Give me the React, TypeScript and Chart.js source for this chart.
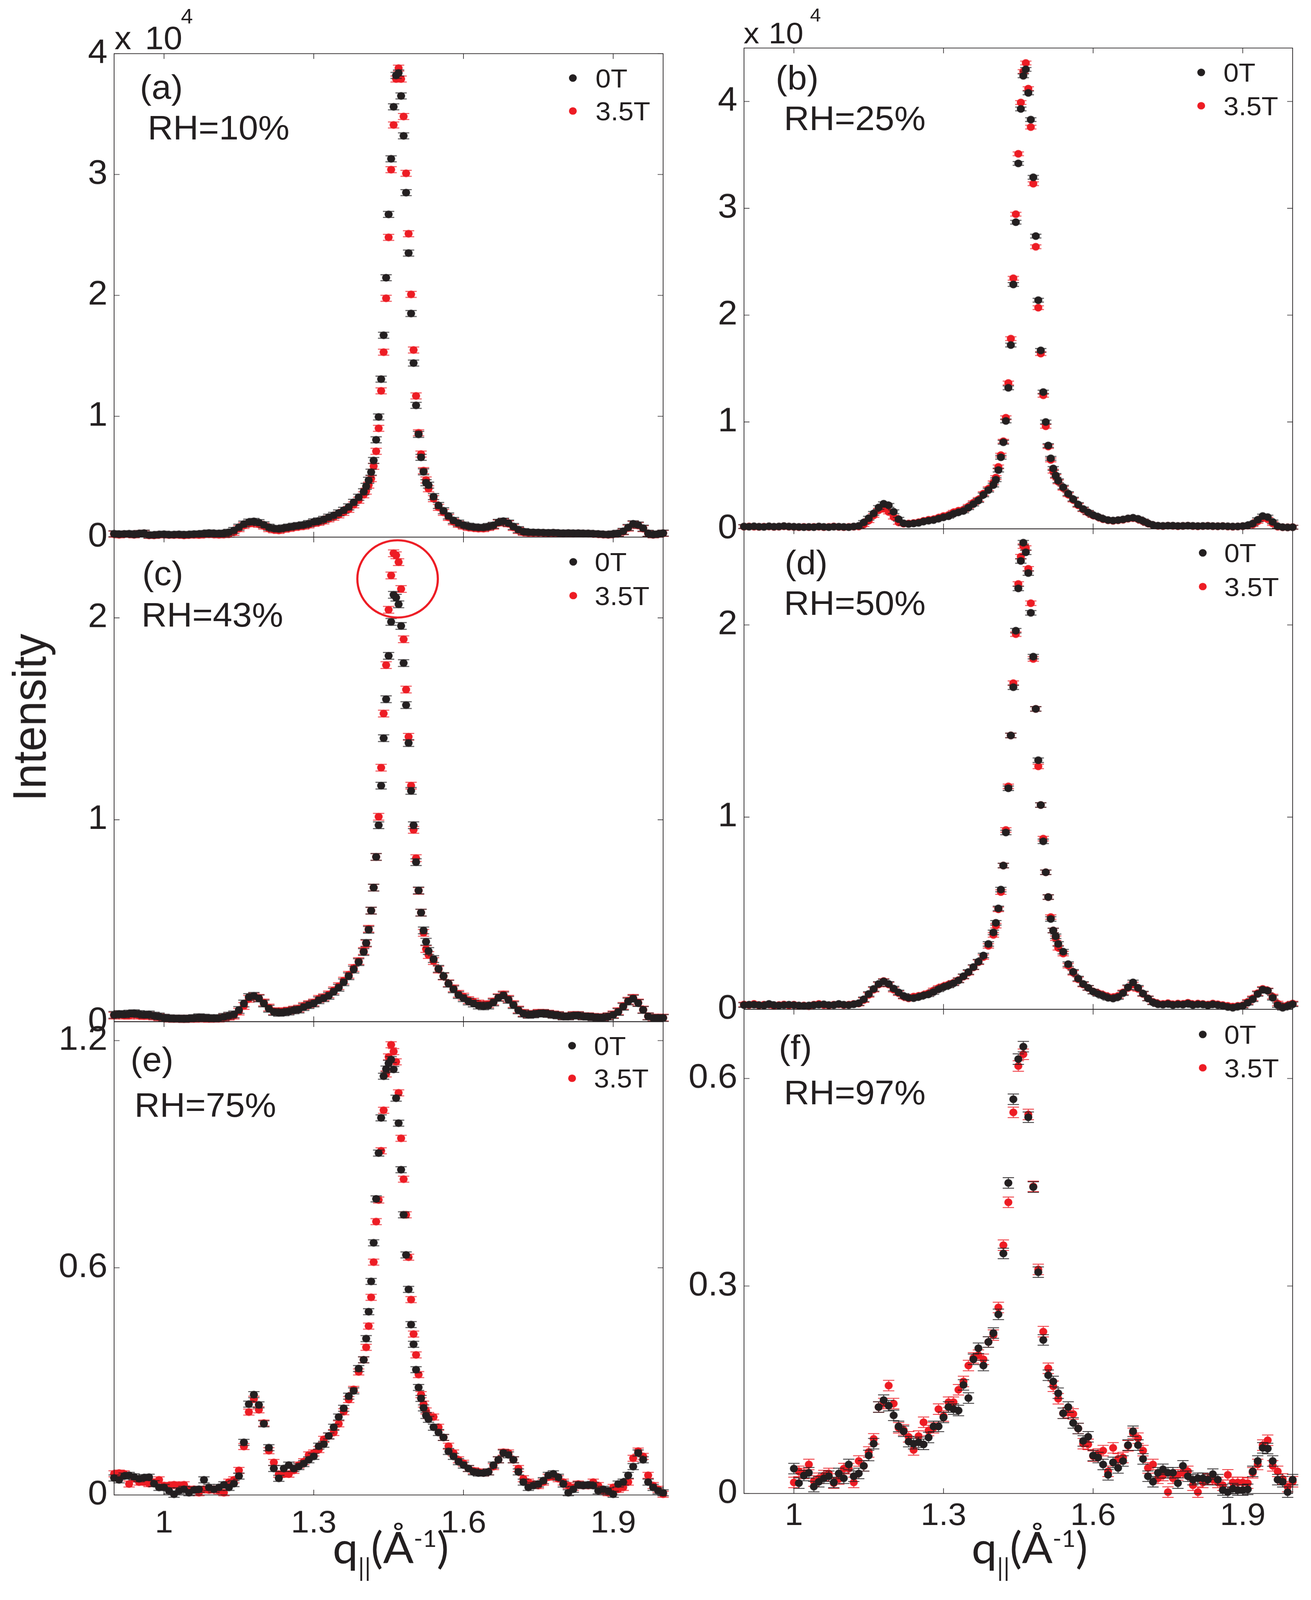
import { useEffect, useRef, useState } from 'react'
import { Chart, registerables } from 'chart.js'

Chart.register(...registerables)

const INK = '#231f20'
const RED = '#ed1c24'
const FONT = '"Liberation Sans", Arial, Helvetica, sans-serif'
const PAGE_W = 3355
const PAGE_H = 4266

// q|| grid (1/Å) for panels (a)-(e): 0.01 on the tails, 0.005 across the main peak
const Q = [
  0.9, 0.91, 0.92, 0.93, 0.94, 0.95, 0.96, 0.97, 0.98, 0.99,
  1.0, 1.01, 1.02, 1.03, 1.04, 1.05, 1.06, 1.07, 1.08, 1.09,
  1.1, 1.11, 1.12, 1.13, 1.14, 1.15, 1.16, 1.17, 1.18, 1.19,
  1.2, 1.21, 1.22, 1.23, 1.24, 1.25, 1.26, 1.27, 1.28, 1.29,
  1.3, 1.31, 1.32, 1.33, 1.34, 1.35, 1.36, 1.37, 1.38, 1.39,
  1.4,
  1.405, 1.41, 1.415, 1.42, 1.425, 1.43, 1.435, 1.44, 1.445, 1.45,
  1.455, 1.46, 1.465, 1.47, 1.475, 1.48, 1.485, 1.49, 1.495, 1.5,
  1.505, 1.51, 1.515, 1.52, 1.525, 1.53,
  1.54, 1.55, 1.56, 1.57, 1.58, 1.59, 1.6, 1.61, 1.62, 1.63,
  1.64, 1.65, 1.66, 1.67, 1.68, 1.69, 1.7, 1.71, 1.72, 1.73,
  1.74, 1.75, 1.76, 1.77, 1.78, 1.79, 1.8, 1.81, 1.82, 1.83,
  1.84, 1.85, 1.86, 1.87, 1.88, 1.89, 1.9, 1.91, 1.92, 1.93,
  1.94, 1.95, 1.96, 1.97, 1.98, 1.99, 2.0,
]

// q|| grid for panel (f)
const Q_F = [
  1.0, 1.01, 1.02, 1.03, 1.04, 1.05, 1.06, 1.07, 1.08, 1.09,
  1.1, 1.11, 1.12, 1.13, 1.14, 1.15, 1.16, 1.17, 1.18, 1.19,
  1.2, 1.21, 1.22, 1.23, 1.24, 1.25, 1.26, 1.27, 1.28, 1.29,
  1.3, 1.31, 1.32, 1.33, 1.34, 1.35, 1.36, 1.37, 1.38, 1.39,
  1.4, 1.41, 1.42, 1.43, 1.44, 1.45, 1.46, 1.47, 1.48, 1.49,
  1.5, 1.51, 1.52, 1.53, 1.54, 1.55, 1.56, 1.57, 1.58, 1.59,
  1.6, 1.61, 1.62, 1.63, 1.64, 1.65, 1.66, 1.67, 1.68, 1.69,
  1.7, 1.71, 1.72, 1.73, 1.74, 1.75, 1.76, 1.77, 1.78, 1.79,
  1.8, 1.81, 1.82, 1.83, 1.84, 1.85, 1.86, 1.87, 1.88, 1.89,
  1.9, 1.91, 1.92, 1.93, 1.94, 1.95, 1.96, 1.97, 1.98, 1.99,
  2.0,
]

const X_TICKS = [1, 1.3, 1.6, 1.9]

// (a) RH=10%, intensity x 10^4
const A_0T = [
  0.028, 0.024, 0.026, 0.028, 0.022, 0.03, 0.033, 0.018, 0.018, 0.022,
  0.024, 0.02, 0.021, 0.023, 0.02, 0.022, 0.025, 0.026, 0.03, 0.034,
  0.032, 0.03, 0.033, 0.04, 0.055, 0.082, 0.108, 0.124, 0.13, 0.12,
  0.102, 0.082, 0.072, 0.068, 0.076, 0.083, 0.09, 0.096, 0.102, 0.112,
  0.126, 0.134, 0.147, 0.165, 0.18, 0.2, 0.222, 0.25, 0.288, 0.33,
  0.375,
  0.42, 0.47, 0.537, 0.634, 0.805, 0.994, 1.307, 1.67, 2.146, 2.67,
  3.13, 3.56, 3.82, 3.84, 3.65, 3.32, 2.85, 2.35, 1.85, 1.44,
  1.09, 0.85, 0.66, 0.54, 0.45, 0.43,
  0.335, 0.262, 0.218, 0.175, 0.138, 0.116, 0.1, 0.09, 0.084, 0.08,
  0.08, 0.088, 0.098, 0.122, 0.132, 0.116, 0.088, 0.062, 0.046, 0.04,
  0.039, 0.038, 0.037, 0.035, 0.037, 0.034, 0.032, 0.034, 0.032, 0.033,
  0.031, 0.031, 0.028, 0.026, 0.023, 0.021, 0.026, 0.032, 0.048, 0.08,
  0.11, 0.1, 0.074, 0.032, 0.021, 0.026, 0.033,
]
const A_35T = [
  0.024, 0.019, 0.024, 0.024, 0.019, 0.029, 0.031, 0.014, 0.014, 0.019,
  0.021, 0.017, 0.017, 0.019, 0.014, 0.017, 0.019, 0.017, 0.021, 0.024,
  0.021, 0.019, 0.021, 0.024, 0.039, 0.07, 0.096, 0.11, 0.117, 0.106,
  0.091, 0.07, 0.06, 0.055, 0.065, 0.072, 0.08, 0.086, 0.091, 0.101,
  0.114, 0.122, 0.134, 0.151, 0.165, 0.184, 0.205, 0.23, 0.267, 0.305,
  0.35,
  0.38, 0.43, 0.484, 0.586, 0.71, 0.9, 1.21, 1.53, 1.976, 2.48,
  3.04, 3.41, 3.79, 3.88, 3.79, 3.48, 3.01, 2.51, 2.008, 1.548,
  1.168, 0.863, 0.687, 0.55, 0.473, 0.4,
  0.318, 0.246, 0.205, 0.163, 0.127, 0.106, 0.091, 0.08, 0.075, 0.07,
  0.07, 0.08, 0.091, 0.117, 0.127, 0.11, 0.08, 0.055, 0.039, 0.034,
  0.034, 0.034, 0.034, 0.031, 0.034, 0.031, 0.029, 0.031, 0.029, 0.031,
  0.029, 0.029, 0.026, 0.024, 0.021, 0.019, 0.024, 0.029, 0.044, 0.075,
  0.106, 0.096, 0.07, 0.029, 0.019, 0.024, 0.031,
]

// (b) RH=25%, intensity x 10^4
const B_0T = [
  0.022, 0.02, 0.024, 0.02, 0.018, 0.024, 0.02, 0.022, 0.026, 0.022,
  0.02, 0.018, 0.016, 0.018, 0.016, 0.022, 0.018, 0.016, 0.02, 0.02,
  0.018, 0.016, 0.022, 0.028, 0.06, 0.1, 0.145, 0.2, 0.235, 0.22,
  0.16, 0.09, 0.052, 0.045, 0.05, 0.056, 0.068, 0.076, 0.082, 0.095,
  0.108, 0.118, 0.14, 0.155, 0.168, 0.198, 0.232, 0.265, 0.318, 0.362,
  0.41,
  0.46, 0.55, 0.67, 0.81, 1.01, 1.32, 1.72, 2.287, 2.87, 3.42,
  3.93, 4.24, 4.3, 4.08, 3.83, 3.29, 2.74, 2.14, 1.67, 1.28,
  1.0, 0.78, 0.66, 0.565, 0.5, 0.45,
  0.39, 0.33, 0.278, 0.228, 0.186, 0.155, 0.13, 0.112, 0.094, 0.082,
  0.078, 0.082, 0.088, 0.098, 0.104, 0.094, 0.074, 0.052, 0.036, 0.03,
  0.028, 0.03, 0.03, 0.027, 0.028, 0.03, 0.028, 0.026, 0.027, 0.028,
  0.026, 0.025, 0.026, 0.024, 0.022, 0.023, 0.026, 0.034, 0.05, 0.085,
  0.12, 0.11, 0.065, 0.025, 0.016, 0.014, 0.015,
]
const B_35T = [
  0.02, 0.022, 0.02, 0.018, 0.02, 0.022, 0.018, 0.02, 0.024, 0.02,
  0.018, 0.016, 0.018, 0.016, 0.018, 0.02, 0.016, 0.018, 0.022, 0.018,
  0.016, 0.018, 0.02, 0.022, 0.04, 0.077, 0.126, 0.174, 0.19, 0.158,
  0.11, 0.06, 0.048, 0.05, 0.055, 0.062, 0.075, 0.085, 0.09, 0.105,
  0.12, 0.13, 0.155, 0.17, 0.18, 0.21, 0.245, 0.275, 0.33, 0.375,
  0.43,
  0.48, 0.58, 0.69, 0.82, 1.04, 1.365, 1.78, 2.345, 2.945, 3.51,
  3.99, 4.28, 4.36, 4.12, 3.76, 3.23, 2.64, 2.07, 1.64, 1.25,
  0.96, 0.77, 0.645, 0.54, 0.49, 0.44,
  0.38, 0.32, 0.27, 0.22, 0.18, 0.15, 0.125, 0.11, 0.09, 0.08,
  0.075, 0.08, 0.085, 0.095, 0.1, 0.09, 0.07, 0.05, 0.035, 0.028,
  0.026, 0.03, 0.028, 0.025, 0.027, 0.03, 0.026, 0.024, 0.026, 0.028,
  0.025, 0.024, 0.026, 0.022, 0.02, 0.022, 0.025, 0.03, 0.04, 0.07,
  0.1, 0.09, 0.05, 0.02, 0.015, 0.014, 0.016,
]

// (c) RH=43%, intensity x 10^4
const C_0T = [
  0.034, 0.038, 0.036, 0.04, 0.042, 0.038, 0.034, 0.036, 0.03, 0.026,
  0.02, 0.017, 0.015, 0.016, 0.014, 0.016, 0.018, 0.022, 0.02, 0.018,
  0.016, 0.018, 0.024, 0.03, 0.036, 0.058, 0.09, 0.122, 0.128, 0.115,
  0.09, 0.064, 0.048, 0.044, 0.046, 0.05, 0.056, 0.06, 0.072, 0.082,
  0.09, 0.106, 0.116, 0.128, 0.148, 0.168, 0.195, 0.225, 0.258, 0.295,
  0.345,
  0.39, 0.455, 0.55, 0.664, 0.816, 0.973, 1.169, 1.404, 1.597, 1.812,
  1.98, 2.114, 2.1, 2.067, 1.96, 1.776, 1.568, 1.38, 1.143, 0.973,
  0.79, 0.65, 0.54, 0.452, 0.396, 0.35,
  0.31, 0.262, 0.226, 0.188, 0.16, 0.132, 0.116, 0.1, 0.09, 0.08,
  0.076, 0.08, 0.095, 0.118, 0.13, 0.108, 0.082, 0.056, 0.04, 0.034,
  0.036, 0.04, 0.042, 0.038, 0.034, 0.031, 0.026, 0.026, 0.03, 0.031,
  0.026, 0.025, 0.022, 0.02, 0.02, 0.025, 0.033, 0.048, 0.074, 0.1,
  0.114, 0.092, 0.058, 0.026, 0.018, 0.018, 0.018,
]
const C_35T = [
  0.03, 0.035, 0.03, 0.03, 0.035, 0.03, 0.028, 0.03, 0.026, 0.022,
  0.018, 0.015, 0.014, 0.015, 0.013, 0.015, 0.014, 0.016, 0.015, 0.014,
  0.015, 0.015, 0.02, 0.025, 0.03, 0.05, 0.078, 0.113, 0.125, 0.118,
  0.095, 0.07, 0.052, 0.05, 0.052, 0.055, 0.06, 0.065, 0.078, 0.087,
  0.095, 0.113, 0.121, 0.135, 0.155, 0.176, 0.203, 0.232, 0.266, 0.3,
  0.35,
  0.387, 0.46, 0.55, 0.664, 0.816, 1.015, 1.258, 1.526, 1.766, 2.04,
  2.21, 2.32, 2.31, 2.276, 2.143, 1.894, 1.645, 1.411, 1.169, 0.95,
  0.81, 0.648, 0.54, 0.44, 0.36, 0.33,
  0.3, 0.258, 0.224, 0.19, 0.165, 0.138, 0.124, 0.107, 0.099, 0.09,
  0.084, 0.087, 0.1, 0.121, 0.135, 0.113, 0.087, 0.06, 0.044, 0.036,
  0.039, 0.044, 0.044, 0.04, 0.036, 0.033, 0.027, 0.027, 0.033, 0.033,
  0.027, 0.027, 0.024, 0.022, 0.022, 0.027, 0.036, 0.052, 0.078, 0.104,
  0.118, 0.095, 0.06, 0.027, 0.02, 0.02, 0.02,
]

// (d) RH=50%, intensity x 10^4
const D_0T = [
  0.022, 0.024, 0.024, 0.022, 0.02, 0.028, 0.022, 0.02, 0.022, 0.024,
  0.022, 0.02, 0.018, 0.02, 0.022, 0.024, 0.026, 0.022, 0.022, 0.028,
  0.024, 0.022, 0.026, 0.032, 0.052, 0.08, 0.106, 0.132, 0.145, 0.132,
  0.108, 0.088, 0.07, 0.06, 0.058, 0.064, 0.072, 0.078, 0.09, 0.104,
  0.115, 0.124, 0.135, 0.15, 0.172, 0.194, 0.22, 0.248, 0.28, 0.34,
  0.4,
  0.45, 0.525, 0.623, 0.748, 0.92, 1.15, 1.425, 1.676, 1.97, 2.19,
  2.333, 2.428, 2.378, 2.27, 2.063, 1.835, 1.563, 1.296, 1.063, 0.874,
  0.713, 0.584, 0.47, 0.41, 0.38, 0.34,
  0.3, 0.235, 0.195, 0.16, 0.132, 0.112, 0.092, 0.08, 0.07, 0.06,
  0.056, 0.064, 0.084, 0.115, 0.14, 0.112, 0.082, 0.056, 0.036, 0.026,
  0.024, 0.028, 0.022, 0.026, 0.024, 0.03, 0.022, 0.026, 0.025, 0.02,
  0.026, 0.022, 0.018, 0.012, 0.008, 0.014, 0.018, 0.034, 0.052, 0.08,
  0.102, 0.096, 0.06, 0.022, 0.008, 0.016, 0.026,
]
const D_35T = [
  0.025, 0.022, 0.028, 0.02, 0.024, 0.026, 0.018, 0.022, 0.025, 0.02,
  0.024, 0.018, 0.02, 0.016, 0.024, 0.028, 0.022, 0.02, 0.024, 0.026,
  0.022, 0.024, 0.028, 0.03, 0.048, 0.075, 0.102, 0.129, 0.147, 0.129,
  0.102, 0.084, 0.066, 0.057, 0.066, 0.07, 0.075, 0.084, 0.098, 0.111,
  0.12, 0.129, 0.138, 0.152, 0.17, 0.191, 0.218, 0.245, 0.272, 0.33,
  0.387,
  0.435, 0.52, 0.61, 0.748, 0.933, 1.16, 1.425, 1.697, 1.952, 2.213,
  2.355, 2.41, 2.4, 2.292, 2.113, 1.823, 1.563, 1.264, 1.063, 0.888,
  0.713, 0.584, 0.48, 0.41, 0.37, 0.32,
  0.29, 0.227, 0.19, 0.156, 0.129, 0.111, 0.093, 0.084, 0.075, 0.066,
  0.063, 0.07, 0.088, 0.111, 0.129, 0.106, 0.08, 0.057, 0.039, 0.03,
  0.028, 0.032, 0.026, 0.03, 0.028, 0.034, 0.026, 0.03, 0.028, 0.024,
  0.03, 0.026, 0.022, 0.018, 0.014, 0.018, 0.021, 0.039, 0.057, 0.084,
  0.106, 0.098, 0.066, 0.03, 0.016, 0.021, 0.03,
]

// (e) RH=75%
const E_0T = [
  0.045, 0.04, 0.05, 0.052, 0.048, 0.043, 0.046, 0.047, 0.03, 0.02,
  0.02, 0.011, 0.002, 0.011, 0.015, 0.006, 0.013, 0.015, 0.04, 0.02,
  0.015, 0.02, 0.027, 0.02, 0.03, 0.05, 0.139, 0.24, 0.265, 0.238,
  0.188, 0.125, 0.07, 0.044, 0.07, 0.079, 0.07, 0.075, 0.083, 0.093,
  0.102, 0.129, 0.134, 0.156, 0.179, 0.206, 0.229, 0.261, 0.275, 0.334,
  0.357,
  0.413, 0.484, 0.564, 0.666, 0.782, 0.903, 0.996, 1.106, 1.125, 1.14,
  1.15, 1.124, 1.048, 0.982, 0.859, 0.74, 0.634, 0.543, 0.45, 0.398,
  0.331, 0.284, 0.255, 0.23, 0.21, 0.2,
  0.179, 0.165, 0.152, 0.115, 0.102, 0.088, 0.079, 0.07, 0.061, 0.058,
  0.058, 0.061, 0.079, 0.093, 0.111, 0.106, 0.093, 0.061, 0.034, 0.02,
  0.025, 0.029, 0.038, 0.052, 0.056, 0.047, 0.029, 0.006, 0.015, 0.027,
  0.025, 0.027, 0.025, 0.011, 0.015, 0.011, 0.002, 0.029, 0.034, 0.052,
  0.075, 0.111, 0.093, 0.034, 0.02, 0.011, 0.006,
]
const E_35T = [
  0.056, 0.058, 0.056, 0.029, 0.043, 0.034, 0.034, 0.03, 0.034, 0.04,
  0.025, 0.025, 0.027, 0.025, 0.027, 0.015, 0.015, 0.006, 0.015, 0.013,
  0.015, 0.011, 0.006, 0.034, 0.04, 0.065, 0.128, 0.219, 0.253, 0.225,
  0.19, 0.117, 0.086, 0.055, 0.055, 0.055, 0.065, 0.079, 0.088, 0.106,
  0.111, 0.12, 0.147, 0.156, 0.165, 0.188, 0.22, 0.252, 0.279, 0.325,
  0.357,
  0.39, 0.446, 0.522, 0.615, 0.722, 0.779, 0.909, 1.016, 1.112, 1.157,
  1.189, 1.171, 1.144, 1.062, 0.942, 0.834, 0.74, 0.628, 0.516, 0.425,
  0.37, 0.318, 0.265, 0.24, 0.222, 0.21,
  0.206, 0.179, 0.152, 0.129, 0.111, 0.093, 0.084, 0.07, 0.064, 0.061,
  0.058, 0.061, 0.075, 0.093, 0.113, 0.111, 0.093, 0.07, 0.043, 0.034,
  0.029, 0.025, 0.034, 0.047, 0.049, 0.043, 0.034, 0.025, 0.02, 0.029,
  0.025, 0.025, 0.034, 0.025, 0.011, 0.006, 0.02, 0.015, 0.02, 0.034,
  0.097, 0.116, 0.102, 0.052, 0.025, 0.015, 0.002,
]

// (f) RH=97%
const F_0T = [
  0.036, 0.015, 0.026, 0.03, 0.01, 0.017, 0.022, 0.025, 0.016, 0.029,
  0.022, 0.042, 0.025, 0.029, 0.04, 0.055, 0.072, 0.125, 0.135, 0.127,
  0.113, 0.097, 0.09, 0.075, 0.072, 0.074, 0.071, 0.081, 0.097, 0.097,
  0.11, 0.125, 0.122, 0.12, 0.157, 0.138, 0.194, 0.21, 0.185, 0.219,
  0.232, 0.259, 0.347, 0.449, 0.57, 0.628, 0.646, 0.544, 0.443, 0.32,
  0.222, 0.171, 0.162, 0.145, 0.116, 0.125, 0.102, 0.094, 0.076, 0.082,
  0.055, 0.052, 0.042, 0.027, 0.045, 0.037, 0.047, 0.07, 0.09, 0.07,
  0.05, 0.025, 0.017, 0.03, 0.035, 0.03, 0.03, 0.015, 0.04, 0.025,
  0.02, 0.022, 0.022, 0.02, 0.028, 0.02, 0.005, 0.002, 0.007, 0.005,
  0.005, 0.006, 0.032, 0.047, 0.066, 0.065, 0.047, 0.02, 0.017, 0.002,
  0.02,
]
const F_35T = [
  0.016, 0.032, 0.029, 0.042, 0.018, 0.022, 0.026, 0.029, 0.015, 0.021,
  0.036, 0.036, 0.016, 0.047, 0.04, 0.06, 0.079, 0.125, 0.13, 0.156,
  0.13, 0.095, 0.092, 0.082, 0.063, 0.083, 0.103, 0.091, 0.095, 0.122,
  0.112, 0.132, 0.132, 0.15, 0.162, 0.185, 0.196, 0.2, 0.194, 0.219,
  0.229, 0.269, 0.359, 0.421, 0.551, 0.618, 0.635, 0.548, 0.444, 0.324,
  0.234, 0.181, 0.155, 0.137, 0.116, 0.117, 0.115, 0.094, 0.072, 0.071,
  0.054, 0.057, 0.062, 0.032, 0.066, 0.05, 0.052, 0.069, 0.087, 0.08,
  0.062, 0.037, 0.042, 0.022, 0.026, 0.002, 0.022, 0.027, 0.03, 0.032,
  0.012, 0.002, 0.016, 0.021, 0.02, 0.016, 0.012, 0.027, 0.016, 0.016,
  0.016, 0.015, 0.03, 0.042, 0.07, 0.077, 0.04, 0.032, 0.021, 0.01,
  0.017,
]

const Y_TICKS_AB = [0, 1, 2, 3, 4]
const Y_TICKS_CD = [0, 1, 2]
const Y_TICKS_E = [0, 0.6, 1.2]
const Y_TICKS_F = [0, 0.3, 0.6]

// canvas margins around each plot box
const ML = 200
const MR = 24
const MT = 70
const MB = 150

const PANELS = [
  {
    id: 'a', q: Q, s0: A_0T, s1: A_35T, yMax: 4, yTicks: Y_TICKS_AB, box: [292, 143, 1697, 1432],
    showX: false, xPad: 18, err: 8,
    tag: '(a)', tagPos: [358, 263], rh: 'RH=10%', rhPos: [378, 372],
    legend: [1466, 208, 296, 1524],
    exp: { size: 86, x: [293, 131], ten: [371, 131], four: [463, 63], fourSize: 55 },
  },
  {
    id: 'b', q: Q, s0: B_0T, s1: B_35T, yMax: 4.5, yTicks: Y_TICKS_AB, box: [1904, 128, 3308, 1410],
    showX: false, xPad: 18, err: 5,
    tag: '(b)', tagPos: [1985, 238], rh: 'RH=25%', rhPos: [2006, 347],
    legend: [3074, 193, 282, 3131],
    exp: { size: 80, x: [1903, 117], ten: [1967, 117], four: [2073, 57], fourSize: 50 },
  },
  {
    id: 'c', q: Q, s0: C_0T, s1: C_35T, yMax: 2.4, yTicks: Y_TICKS_CD, box: [292, 1432, 1697, 2724],
    showX: false, xPad: 18, err: 9,
    tag: '(c)', tagPos: [364, 1560], rh: 'RH=43%', rhPos: [362, 1671],
    legend: [1467, 1498, 1588, 1522], ring: { x: 1.468, y: 2.193, r: 103 },
  },
  {
    id: 'd', q: Q, s0: D_0T, s1: D_35T, yMax: 2.5, yTicks: Y_TICKS_CD, box: [1904, 1410, 3308, 2691],
    showX: false, xPad: 18, err: 6,
    tag: '(d)', tagPos: [2008, 1531], rh: 'RH=50%', rhPos: [2006, 1639],
    legend: [3078, 1474, 1564, 3133],
  },
  {
    id: 'e', q: Q, s0: E_0T, s1: E_35T, yMax: 1.25, yTicks: Y_TICKS_E, box: [292, 2724, 1697, 3986],
    showX: true, xPad: 18, err: 8,
    tag: '(e)', tagPos: [334, 2856], rh: 'RH=75%', rhPos: [344, 2978],
    legend: [1464, 2788, 2875, 1520],
  },
  {
    id: 'f', q: Q_F, s0: F_0T, s1: F_35T, yMax: 0.7, yTicks: Y_TICKS_F, box: [1904, 2691, 3308, 3982],
    showX: true, xPad: 2, err: 14,
    tag: '(f)', tagPos: [1993, 2824], rh: 'RH=97%', rhPos: [2006, 2944],
    legend: [3078, 2758, 2847, 3133],
  },
]

// filled dot with error-bar caps, used as the point style
function makeMarker(color: string, err: number) {
  const r = 10.3
  const cap = 14.5
  const w = Math.ceil(cap * 2 + 4)
  const h = Math.ceil(Math.max(r, err) * 2 + 6)
  const c = document.createElement('canvas')
  c.width = w
  c.height = h
  const ctx = c.getContext('2d')!
  const cx = w / 2
  const cy = h / 2
  ctx.strokeStyle = color
  ctx.lineWidth = 1.8
  ctx.beginPath()
  ctx.moveTo(cx, cy - err)
  ctx.lineTo(cx, cy + err)
  ctx.moveTo(cx - cap, cy - err)
  ctx.lineTo(cx + cap, cy - err)
  ctx.moveTo(cx - cap, cy + err)
  ctx.lineTo(cx + cap, cy + err)
  ctx.stroke()
  ctx.fillStyle = color
  ctx.beginPath()
  ctx.arc(cx, cy, r, 0, Math.PI * 2)
  ctx.fill()
  return c
}

// box frame with inward ticks on all four sides, plus the optional red ring
const framePlugin = {
  id: 'frame',
  afterDatasetsDraw(chart: any, _args: any, opts: any) {
    const { ctx, chartArea: a, scales } = chart
    const sx = scales.x
    const sy = scales.y
    const tl = 14
    ctx.save()
    ctx.strokeStyle = INK
    ctx.lineWidth = 1.8
    ctx.strokeRect(a.left, a.top, a.right - a.left, a.bottom - a.top)
    ctx.lineWidth = 1.6
    ctx.beginPath()
    sx.ticks.forEach((t: any) => {
      const px = sx.getPixelForValue(t.value)
      ctx.moveTo(px, a.bottom)
      ctx.lineTo(px, a.bottom - tl)
      ctx.moveTo(px, a.top)
      ctx.lineTo(px, a.top + tl)
    })
    sy.ticks.forEach((t: any) => {
      const py = sy.getPixelForValue(t.value)
      ctx.moveTo(a.left, py)
      ctx.lineTo(a.left + tl, py)
      ctx.moveTo(a.right, py)
      ctx.lineTo(a.right - tl, py)
    })
    ctx.stroke()
    if (opts && opts.ring) {
      const ring = opts.ring
      ctx.strokeStyle = RED
      ctx.lineWidth = 5.5
      ctx.beginPath()
      ctx.arc(sx.getPixelForValue(ring.x), sy.getPixelForValue(ring.y), ring.r, 0, Math.PI * 2)
      ctx.stroke()
    }
    ctx.restore()
  },
}

function Panel({ p }: { p: any }) {
  const canvasRef = useRef<HTMLCanvasElement>(null)
  const [L, T, R, B] = p.box
  const w = R - L + ML + MR
  const h = B - T + MT + MB

  useEffect(() => {
    if (!canvasRef.current) return
    const pts = (ys: number[]) => p.q.map((x: number, i: number) => ({ x, y: ys[i] }))

    const chart = new Chart(canvasRef.current, {
      type: 'scatter',
      data: {
        datasets: [
          {
            label: '0T',
            data: pts(p.s0),
            pointStyle: makeMarker(INK, p.err),
            pointRadius: 11,
            showLine: false,
            clip: false,
          },
          {
            label: '3.5T',
            data: pts(p.s1),
            pointStyle: makeMarker(RED, p.err),
            pointRadius: 11,
            showLine: false,
            clip: false,
          },
        ],
      },
      options: {
        animation: false,
        responsive: false,
        devicePixelRatio: 1,
        events: [],
        layout: { padding: { top: MT, right: MR, left: 0, bottom: 0 } },
        plugins: {
          legend: { display: false },
          tooltip: { enabled: false },
          frame: { ring: p.ring || null },
        },
        scales: {
          x: {
            type: 'linear',
            min: 0.9,
            max: 2.0,
            afterBuildTicks: (ax: any) => {
              ax.ticks = X_TICKS.map((value) => ({ value }))
            },
            afterFit: (ax: any) => {
              ax.height = MB
            },
            grid: { display: false },
            border: { display: false },
            ticks: {
              display: p.showX,
              padding: p.xPad,
              color: INK,
              font: { family: FONT, size: 84 },
              maxRotation: 0,
              callback: (v: any) => String(Number(v)),
            },
          },
          y: {
            type: 'linear',
            min: 0,
            max: p.yMax,
            afterBuildTicks: (ax: any) => {
              ax.ticks = p.yTicks.map((value: number) => ({ value }))
            },
            afterFit: (ax: any) => {
              ax.width = ML
            },
            grid: { display: false },
            border: { display: false },
            ticks: {
              padding: 9,
              color: INK,
              font: { family: FONT, size: 90 },
              callback: (v: any) => String(Number(v)),
            },
          },
        },
      } as any,
      plugins: [framePlugin],
    })

    return () => {
      chart.destroy()
    }
  }, [p])

  return (
    <canvas
      ref={canvasRef}
      width={w}
      height={h}
      style={{ position: 'absolute', left: L - ML, top: T - MT, width: w, height: h }}
    />
  )
}

// places text by its baseline (Liberation Sans, line-height 1)
function Label({ x, base, size, children }: { x: number; base: number; size: number; children: any }) {
  return (
    <div
      style={{
        position: 'absolute',
        left: x,
        top: base - 0.8465 * size,
        fontSize: size,
        lineHeight: 1,
        whiteSpace: 'nowrap',
      }}
    >
      {children}
    </div>
  )
}

function PanelText({ p }: { p: any }) {
  const [dotX, y1, y2, textX] = p.legend
  const dot = (y: number, color: string) => (
    <div
      style={{
        position: 'absolute',
        left: dotX - 10,
        top: y - 10,
        width: 20,
        height: 20,
        borderRadius: '50%',
        background: color,
      }}
    />
  )
  return (
    <>
      <Label x={p.tagPos[0]} base={p.tagPos[1]} size={90}>{p.tag}</Label>
      <Label x={p.rhPos[0]} base={p.rhPos[1]} size={90}>{p.rh}</Label>
      {dot(y1, INK)}
      {dot(y2, RED)}
      <Label x={textX} base={y1 + 25} size={70}>0T</Label>
      <Label x={textX} base={y2 + 25} size={70}>3.5T</Label>
      {p.exp && (
        <>
          <Label x={p.exp.x[0]} base={p.exp.x[1]} size={p.exp.size}>x</Label>
          <Label x={p.exp.ten[0]} base={p.exp.ten[1]} size={p.exp.size}>10</Label>
          <Label x={p.exp.four[0]} base={p.exp.four[1]} size={p.exp.fourSize}>4</Label>
        </>
      )}
    </>
  )
}

function XTitle({ cx }: { cx: number }) {
  return (
    <div
      style={{
        position: 'absolute',
        left: cx,
        top: 4066,
        transform: 'translateX(-50%)',
        fontFamily: 'Lato, "Open Sans", sans-serif',
        fontSize: 116,
        lineHeight: 1,
        whiteSpace: 'nowrap',
      }}
    >
      q
      <span style={{ fontSize: 66, position: 'relative', top: 36 }}>||</span>
      (Å
      <span style={{ fontSize: 62, position: 'relative', top: -44 }}>-1</span>)
    </div>
  )
}

export default function App() {
  // fit the 3355x4266 figure into whatever viewport the page actually gets
  const [vp, setVp] = useState(() => ({
    w: window.innerWidth || PAGE_W,
    h: window.innerHeight || PAGE_H,
  }))

  useEffect(() => {
    document.body.style.margin = '0'
    document.body.style.overflow = 'hidden'
    const onResize = () => setVp({ w: window.innerWidth, h: window.innerHeight })
    window.addEventListener('resize', onResize)
    return () => window.removeEventListener('resize', onResize)
  }, [])

  const sx = vp.w / PAGE_W
  const sy = vp.h / PAGE_H

  return (
    <div
      style={{
        position: 'absolute',
        left: 0,
        top: 0,
        width: PAGE_W,
        height: PAGE_H,
        background: '#ffffff',
        color: INK,
        fontFamily: FONT,
        overflow: 'hidden',
        transform: `scale(${sx}, ${sy})`,
        transformOrigin: '0 0',
      }}
    >
      {PANELS.map((p) => (
        <Panel key={p.id} p={p} />
      ))}
      {PANELS.map((p) => (
        <PanelText key={'t' + p.id} p={p} />
      ))}
      <div
        style={{
          position: 'absolute',
          left: 75,
          top: 1913,
          transform: 'translate(-50%, -50%) rotate(-90deg)',
          fontSize: 120,
          lineHeight: 1,
          whiteSpace: 'nowrap',
        }}
      >
        Intensity
      </div>
      <XTitle cx={1000} />
      <XTitle cx={2635} />
    </div>
  )
}
